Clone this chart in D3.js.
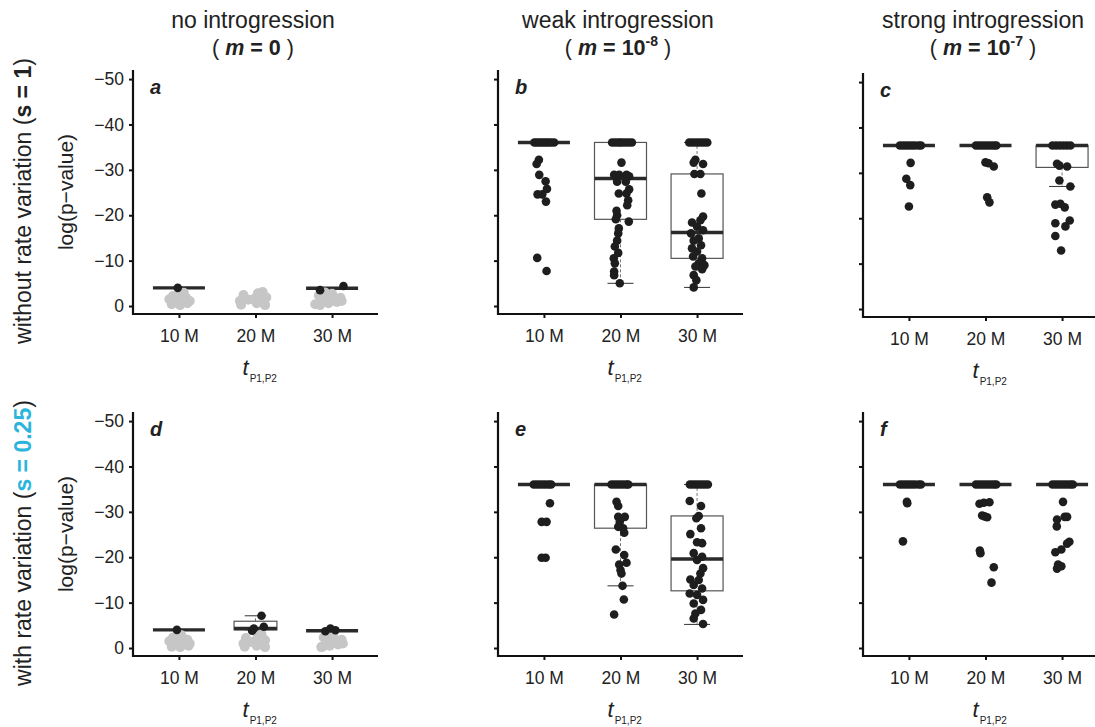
<!DOCTYPE html>
<html>
<head>
<meta charset="utf-8">
<script src="https://cdn.jsdelivr.net/npm/d3@7"></script>
<style>
  body { margin: 0; background: #fff; }
  text { font-family: "Liberation Sans", Arial, Helvetica, sans-serif; fill: #222; }
</style>
</head>
<body>
<div id="graphic"></div>
<script>
var width = 1095,
    height = 727;

// saturated value of log(p-value)
var CAP = -36.04;

var categories = ["10 M", "20 M", "30 M"];
var colTitles = ["no introgression", "weak introgression", "strong introgression"];
var mBase = ["0", "10", "10"];
var mExp = [null, "-8", "-7"];
var rowTitles = ["without rate variation", "with rate variation"];
var sValues = ["1", "0.25"];
var sColors = ["#222", "#2bb5dc"];
var yTicks = [0, -10, -20, -30, -40, -50];
var letters = ["a", "b", "c", "d", "e", "f"];

// box stats per category: [whisker, q1, median, q3, whisker]; null = no box
var boxA = [[-4, -4, -4, -4, -4], null, [-3.9, -3.9, -3.9, -3.9, -3.9]];
var boxB = [[CAP, CAP, CAP, CAP, CAP], [-5.0, -19.1, -28.1, CAP, CAP], [-4.1, -10.5, -16.2, -29.1, CAP]];
var boxC = [[CAP, CAP, CAP, CAP, CAP], [CAP, CAP, CAP, CAP, CAP], [-27.0, -31.2, CAP, CAP, CAP]];
var boxD = [[-4, -4, -4, -4, -4], [-4.0, -4.0, -4.3, -5.9, -7.1], [-3.8, -3.8, -3.8, -3.8, -3.8]];
var boxE = [[CAP, CAP, CAP, CAP, CAP], [-13.7, -26.4, CAP, CAP, CAP], [-5.2, -12.6, -19.6, -29.1, CAP]];
var boxF = [[CAP, CAP, CAP, CAP, CAP], [CAP, CAP, CAP, CAP, CAP], [CAP, CAP, CAP, CAP, CAP]];
// replicates per box (varwidth)
var nD = [50, 34, 50];

// jitter of the points sitting on the saturated value
var satB = [[-0.8, -0.6, -0.4, -0.2, 0, 0.2, 0.4, 0.6, 0.85],
            [-0.7, -0.45, -0.2, 0, 0.2, 0.45, 0.7, 0.95],
            [-0.65, -0.4, -0.15, 0.1, 0.35, 0.6, 0.85]];
var satC = [[-0.75, -0.5, -0.25, 0, 0.25, 0.5, 0.8, 1.0],
            [-0.8, -0.55, -0.3, -0.05, 0.2, 0.45, 0.7, 0.9],
            [-0.8, -0.5, -0.2, 0.1, 0.4, 0.7]];
var satE = [[-0.85, -0.6, -0.35, -0.1, 0.15, 0.4, 0.6],
            [-0.75, -0.5, -0.25, 0, 0.25, 0.5, 0.65],
            [-0.6, -0.35, -0.1, 0.15, 0.4, 0.65, 0.9]];
var satF = [[-0.75, -0.5, -0.25, 0, 0.25, 0.5, 0.8, 1.0],
            [-0.8, -0.55, -0.3, -0.05, 0.2, 0.45, 0.7, 0.9],
            [-0.8, -0.55, -0.3, -0.05, 0.2, 0.45, 0.7, 0.9]];

// other significant replicates: [log p-value, jitter]
var ptsA = [[[-4.0, -0.1]], [], [[-3.5, -1.0], [-4.4, 0.95]]];
var ptsB = [
  [[-32.2, -0.42], [-31.3, -0.61], [-28.9, -0.39], [-27.5, 0.14], [-25.8, 0.25],
   [-24.6, -0.53], [-24.6, -0.14], [-23.0, 0.17], [-10.6, -0.56], [-7.7, 0.22]],
  [[-31.6, 0.08], [-28.9, -0.53], [-28.9, -0.11], [-28.9, 0.5], [-28.6, 0.72],
   [-27.4, -0.28], [-27.4, 0.44], [-25.7, 0.72], [-24.8, -0.14], [-24.8, 0.5],
   [-23.3, 0.64], [-22.2, 0.56], [-21.0, -0.33], [-20.0, -0.28], [-19.1, -0.39],
   [-18.6, 0.69], [-17.1, -0.14], [-16.0, -0.19], [-14.4, -0.28], [-13.1, -0.47],
   [-11.7, -0.19], [-10.5, -0.56], [-9.4, -0.47], [-7.6, -0.53], [-6.8, -0.53],
   [-5.0, -0.06]],
  [[-32.2, -0.14], [-31.6, -0.28], [-31.3, 0.5], [-29.1, -0.22], [-29.1, 0.28],
   [-24.8, 0.36], [-19.7, 0.5], [-18.9, 0.28], [-18.4, -0.42], [-17.5, 0],
   [-16.7, 0.5], [-16.0, -0.5], [-14.9, 0.14], [-14.4, -0.28], [-13.4, 0.33],
   [-12.7, -0.42], [-12.0, 0], [-10.9, -0.33], [-10.5, 0.42], [-9.4, 0.14],
   [-9.0, 0.61], [-8.7, -0.14], [-8.1, 0.42], [-6.8, -0.28], [-5.7, -0.06],
   [-4.1, -0.28]]
];
var ptsC = [
  [[-32.2, 0.14], [-28.7, -0.22], [-27.3, 0.11], [-22.6, 0]],
  [[-32.3, 0], [-32.1, 0.25], [-31.4, 0.69], [-24.6, 0.14], [-23.5, 0.33]],
  [[-32.0, -0.42], [-31.6, -0.22], [-31.4, 0.42], [-28.3, -0.22], [-27.0, 0.69],
   [-23.0, -0.56], [-23.2, -0.14], [-22.4, 0.22], [-19.5, 0.64], [-18.9, -0.56],
   [-18.2, 0.28], [-16.1, -0.56], [-12.9, -0.08]]
];
var ptsD = [
  [[-4.0, -0.17]],
  [[-7.1, 0.5], [-4.7, 0.69], [-4.3, -0.14], [-3.8, -0.28]],
  [[-4.3, -0.14], [-3.7, -0.56], [-3.9, 0.28]]
];
var ptsE = [
  [[-31.9, 0.5], [-27.8, -0.19], [-27.8, 0.22], [-19.9, -0.19], [-19.9, 0.14]],
  [[-32.2, -0.33], [-31.3, -0.19], [-28.9, -0.19], [-28.9, 0.36], [-27.8, -0.06],
   [-26.7, -0.19], [-26.4, 0.22], [-25.4, 0.31], [-21.7, -0.39], [-20.5, 0.31],
   [-18.8, 0.5], [-18.4, -0.11], [-17.2, 0], [-16.4, 0.08], [-13.7, 0.17],
   [-10.7, 0.28], [-7.4, -0.53]],
  [[-32.4, -0.61], [-31.3, 0.33], [-29.1, 0.14], [-28.6, -0.06], [-26.4, 0.33],
   [-25.1, -0.56], [-23.3, 0], [-23.1, 0.42], [-20.9, -0.28], [-20.1, 0.42],
   [-19.4, 0], [-17.6, 0.5], [-16.4, 0.28], [-15.1, -0.56], [-15.0, 0.14],
   [-13.9, -0.28], [-13.1, 0.42], [-12.0, -0.61], [-11.7, 0], [-10.6, 0.5],
   [-9.8, -0.28], [-8.4, 0.33], [-7.6, -0.14], [-6.5, -0.28], [-5.3, 0.5]]
];
var ptsF = [
  [[-32.2, -0.17], [-31.9, -0.14], [-23.5, -0.5]],
  [[-31.8, -0.5], [-32.0, -0.14], [-32.1, 0.33], [-29.2, -0.28], [-28.8, 0.14],
   [-29.0, -0.08], [-21.5, -0.47], [-20.9, -0.42], [-17.8, 0.69], [-14.4, 0.5]],
  [[-32.2, 0.08], [-28.3, -0.42], [-26.8, -0.44], [-28.9, 0.22], [-28.9, 0.42],
   [-23.4, 0.61], [-23.0, 0.42], [-21.7, -0.06], [-21.1, -0.56], [-18.4, -0.33],
   [-18.0, -0.06], [-17.5, -0.42]]
];

// non-significant replicates (grey): [log p-value, jitter]
var greyA = [
  [[-0.4, -0.6], [-0.9, 0.3], [-1.3, -0.2], [-1.8, 0.6], [-2.2, -0.5], [-2.6, 0.1],
   [-0.6, 0.7], [-1.5, -0.8], [-2.9, 0.4], [-1.1, 0.9], [-0.2, 0.1], [-2.0, -0.1]],
  [[-0.3, -1.2], [-0.8, 0.5], [-1.4, -0.6], [-1.9, 0.9], [-2.4, -1.0], [-2.8, 0.2],
   [-0.6, 0.1], [-1.6, -0.1], [-3.1, 0.6], [-1.1, -1.3], [-0.2, 0.8], [-2.1, 0.4]],
  [[-0.4, -1.4], [-0.9, 0.4], [-1.3, -0.8], [-1.8, 0.7], [-2.3, -1.1], [-2.7, 0.0],
   [-0.6, -0.3], [-1.5, 0.2], [-3.0, -0.6], [-1.1, 0.8], [-0.2, -1.0], [-2.0, -0.2]]
];
var greyD = [
  [[-0.3, -0.6], [-0.8, 0.4], [-1.3, -0.3], [-1.8, 0.7], [-2.3, -0.5], [-2.8, 0.2],
   [-0.5, 0.8], [-1.5, -0.8], [-3.1, -0.1], [-1.0, 0.9], [-0.2, 0.1], [-2.0, 0.0]],
  [[-0.3, -0.9], [-0.8, 0.5], [-1.3, -0.5], [-1.7, 0.8], [-2.2, -0.8], [-2.7, 0.2],
   [-0.5, 0.1], [-1.5, -0.1], [-3.0, 0.5], [-1.0, -1.0], [-0.2, 0.8], [-2.0, 0.3]],
  [[-0.3, -0.8], [-0.8, 0.5], [-1.3, -0.5], [-1.8, 0.8], [-2.3, -0.7], [-2.8, 0.1],
   [-0.5, -0.2], [-1.5, 0.3], [-3.1, -0.3], [-1.0, 0.9], [-0.2, -0.9], [-2.0, -0.1]]
];

var panels = [
  {letter: "a", row: 0, col: 0, box: boxA, sat: [[], [], []], pts: ptsA, grey: greyA},
  {letter: "b", row: 0, col: 1, box: boxB, sat: satB, pts: ptsB, grey: null},
  {letter: "c", row: 0, col: 2, box: boxC, sat: satC, pts: ptsC, grey: null, dy: 3},
  {letter: "d", row: 1, col: 0, box: boxD, sat: [[], [], []], pts: ptsD, grey: greyD, n: nD},
  {letter: "e", row: 1, col: 1, box: boxE, sat: satE, pts: ptsE, grey: null},
  {letter: "f", row: 1, col: 2, box: boxF, sat: satF, pts: ptsF, grey: null}
];

var colLeft = [133, 498, 863],
    rowTop = [70, 412],
    panelW = 245,
    panelH = 244;

var svg = d3.select("#graphic")
    .append("svg")
    .attr("width", width)
    .attr("height", height);

svg.append("rect").attr("width", width).attr("height", height).attr("fill", "#fff");

// column titles
colTitles.forEach(function(t, i) {
  var cx = colLeft[i] + 120;
  svg.append("text")
      .attr("x", cx).attr("y", 28)
      .attr("text-anchor", "middle")
      .attr("font-size", 23)
      .text(t);
  var sub = svg.append("text")
      .attr("x", cx).attr("y", 55)
      .attr("text-anchor", "middle")
      .attr("font-size", 21.5);
  sub.append("tspan").text("( ");
  sub.append("tspan").attr("font-weight", "bold").attr("font-style", "italic").text("m");
  sub.append("tspan").attr("font-weight", "bold").text(" = " + mBase[i]);
  if (mExp[i]) {
    sub.append("tspan").attr("font-weight", "bold").attr("font-size", 14).attr("dy", -9).text(mExp[i]);
    sub.append("tspan").attr("dy", 9).text(" )");
  } else {
    sub.append("tspan").text(" )");
  }
});

// row titles
rowTitles.forEach(function(t, i) {
  var cy = rowTop[i] + panelH / 2 + 9;
  var lab = svg.append("text")
      .attr("transform", "translate(31," + cy + ") rotate(-90)")
      .attr("text-anchor", "middle")
      .attr("font-size", 23)
      .attr("fill", "#333");
  lab.append("tspan").text(t + " (");
  lab.append("tspan").attr("font-weight", "bold").style("fill", sColors[i]).text("s = " + sValues[i]);
  lab.append("tspan").text(")");
});

panels.forEach(drawPanel);

function drawPanel(p) {
  var left = colLeft[p.col],
      top = rowTop[p.row] + (p.dy || 0),
      bottom = top + panelH;

  var x = d3.scaleLinear().domain([0.4, 3.6]).range([left, left + panelW]);
  var y = d3.scaleLinear().domain([1.76, -52]).range([bottom, top]);
  var jit = d3.scaleLinear().domain([-1, 1]).range([-12, 12]);

  var g = svg.append("g").attr("class", "panel");

  // y axis
  var ya = g.append("g")
      .attr("transform", "translate(" + left + ",0)")
      .call(d3.axisLeft(y).tickValues(yTicks).tickSize(4).tickPadding(5)
        .tickFormat(p.col === 0 ? d3.format("d") : ""));
  ya.select(".domain").remove();
  ya.selectAll(".tick line").attr("stroke", "#111").attr("stroke-width", 2);
  ya.selectAll(".tick text")
      .attr("font-size", 17.5)
      .attr("font-family", "Liberation Sans, Arial, sans-serif")
      .attr("fill", "#222");

  // x axis
  var xa = g.append("g")
      .attr("transform", "translate(0," + bottom + ")")
      .call(d3.axisBottom(x).tickValues([1, 2, 3]).tickSize(4).tickPadding(12)
        .tickFormat(function(d) { return categories[d - 1]; }));
  xa.select(".domain").remove();
  xa.selectAll(".tick line").attr("stroke", "#111").attr("stroke-width", 2);
  xa.selectAll(".tick text")
      .attr("font-size", 17.5)
      .attr("font-family", "Liberation Sans, Arial, sans-serif")
      .attr("fill", "#222");

  g.append("path")
      .attr("d", "M" + left + "," + top + "V" + bottom + "H" + (left + panelW))
      .attr("fill", "none")
      .attr("stroke", "#111")
      .attr("stroke-width", 2.2);

  // y label
  if (p.col === 0) {
    g.append("text")
        .attr("transform", "translate(" + (left - 60) + "," + ((top + bottom) / 2) + ") rotate(-90)")
        .attr("text-anchor", "middle")
        .attr("font-size", 21)
        .text("log(p\u2212value)");
  }

  // x label
  var xl = g.append("text")
      .attr("x", x(2) - 13).attr("y", bottom + 61)
      .attr("font-size", 22);
  xl.append("tspan").attr("font-style", "italic").text("t");
  xl.append("tspan").attr("font-size", 10).attr("dy", 7).attr("dx", 1).text("P1,P2");

  // panel letter
  g.append("text")
      .attr("x", left + 17).attr("y", top + 24)
      .attr("font-size", 20)
      .attr("font-weight", "bold")
      .attr("font-style", "italic")
      .text(p.letter);

  // boxes
  p.box.forEach(function(b, i) {
    if (!b) return;
    var cx = x(i + 1);
    var n = p.n ? p.n[i] : 50;
    var hw = 26 * Math.sqrt(n / 50);
    var lo = Math.max(b[1], b[3]), hi = Math.min(b[1], b[3]);
    // whiskers
    [[b[0], b[1]], [b[4], b[3]]].forEach(function(w) {
      if (w[0] !== w[1]) {
        g.append("line")
            .attr("x1", cx).attr("x2", cx)
            .attr("y1", y(w[1])).attr("y2", y(w[0]))
            .attr("stroke", "#777").attr("stroke-width", 1)
            .attr("stroke-dasharray", "3,2");
      }
      g.append("line")
          .attr("x1", cx - hw / 2).attr("x2", cx + hw / 2)
          .attr("y1", y(w[0])).attr("y2", y(w[0]))
          .attr("stroke", "#333").attr("stroke-width", 1);
    });
    if (lo !== hi) {
      g.append("rect")
          .attr("x", cx - hw).attr("width", 2 * hw)
          .attr("y", y(hi)).attr("height", y(lo) - y(hi))
          .attr("fill", "none")
          .attr("stroke", "#555").attr("stroke-width", 1.2);
    }
    g.append("line")
        .attr("x1", cx - hw).attr("x2", cx + hw)
        .attr("y1", y(b[2])).attr("y2", y(b[2]))
        .attr("stroke", "#2a2a2a").attr("stroke-width", 3.4);
  });

  // grey points
  if (p.grey) {
    p.grey.forEach(function(list, i) {
      g.selectAll(null)
          .data(list)
          .enter().append("circle")
          .attr("cx", function(d) { return x(i + 1) + jit(d[1]); })
          .attr("cy", function(d) { return y(d[0]); })
          .attr("r", 5)
          .attr("fill", "#c6c6c6");
    });
  }

  // saturated points
  p.sat.forEach(function(list, i) {
    g.selectAll(null)
        .data(list)
        .enter().append("circle")
        .attr("cx", function(d) { return x(i + 1) + jit(d); })
        .attr("cy", y(CAP))
        .attr("r", 4.3)
        .attr("fill", "#1e1e1e");
  });

  // other points
  p.pts.forEach(function(list, i) {
    g.selectAll(null)
        .data(list)
        .enter().append("circle")
        .attr("cx", function(d) { return x(i + 1) + jit(d[1]); })
        .attr("cy", function(d) { return y(d[0]); })
        .attr("r", 4.3)
        .attr("fill", "#1e1e1e");
  });
}
</script>
</body>
</html>
